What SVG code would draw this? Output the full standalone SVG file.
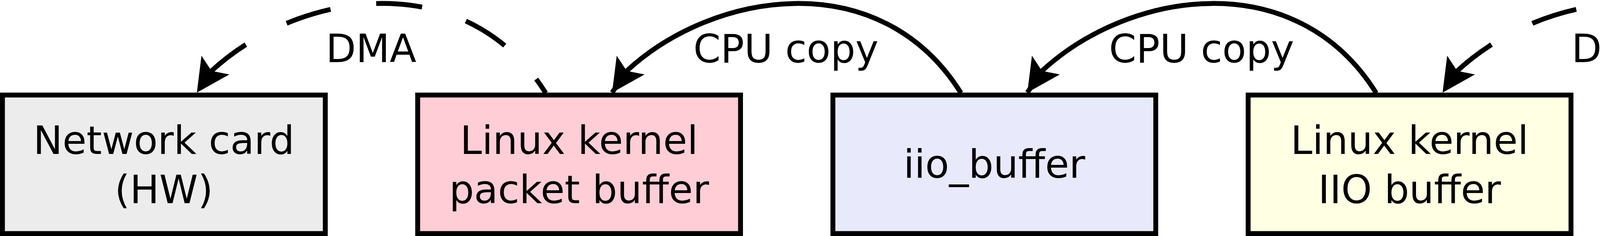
<svg xmlns="http://www.w3.org/2000/svg" width="5092" height="604" viewBox="0 0 5092 604">
<style>
  .box { stroke: #000; stroke-width: 12.5; }
  .lbl { font-family: "DejaVu Sans", "Liberation Sans", sans-serif; font-size: 100px; fill: #000; text-anchor: middle; }
  .conn { fill: none; stroke: #000; stroke-width: 12.5; stroke-linejoin: round; marker-end: url(#arr); }
  .dash { stroke-dasharray: 118 118; stroke-dashoffset: 75; }
</style>
<defs>
  <marker id="arr" markerUnits="userSpaceOnUse" orient="auto" overflow="visible" markerWidth="1" markerHeight="1" refX="0" refY="0">
    <path d="M0,0 L-85,-43 L-67,0 L-85,43 Z" fill="#000" stroke="none"/>
  </marker>
</defs>
<rect width="5092" height="604" fill="#fff"/>
<g id="network-card">
  <rect class="box" x="6.25" y="243.25" width="826.5" height="354.5" fill="#ececec"/>
  <text class="lbl" x="419.5" y="394">Network card</text>
  <text class="lbl" x="419.5" y="520">(HW)</text>
</g>
<g id="packet-buffer">
  <rect class="box" x="1069.25" y="243.25" width="826.5" height="354.5" fill="#ffcdd6"/>
  <text class="lbl" x="1482.5" y="394">Linux kernel</text>
  <text class="lbl" x="1482.5" y="520">packet buffer</text>
</g>
<g id="iio-buffer">
  <rect class="box" x="2132.25" y="243.25" width="826.5" height="354.5" fill="#e8e9fb"/>
  <text class="lbl" x="2545.5" y="455">iio_buffer</text>
</g>
<g id="iio-kernel-buffer">
  <rect class="box" x="3195.25" y="243.25" width="826.5" height="354.5" fill="#ffffe3"/>
  <text class="lbl" x="3608.5" y="394">Linux kernel</text>
  <text class="lbl" x="3608.5" y="520">IIO buffer</text>
</g>
<g id="capture-device">
  <rect class="box" x="4258.25" y="243.25" width="826.5" height="354.5" fill="#ececec"/>
  <text class="lbl" x="4671.5" y="394">Capture device</text>
  <text class="lbl" x="4671.5" y="520">(HW)</text>
</g>
<g id="connectors">
  <path class="conn dash" d="M1397,238 C1190.8,-91.9 763.6,-24.4 541,182 L504,237"/>
  <path class="conn" d="M2460,238 C2253.8,-91.9 1826.6,-24.4 1604,182 L1567,237"/>
  <path class="conn" d="M3523,238 C3316.8,-91.9 2889.6,-24.4 2667,182 L2630,237"/>
  <path class="conn dash" d="M4586,238 C4379.8,-91.9 3952.6,-24.4 3730,182 L3693,237"/>
  <text class="lbl" x="950" y="159">DMA</text>
  <text class="lbl" x="2012" y="160">CPU copy</text>
  <text class="lbl" x="3076" y="160">CPU copy</text>
  <text class="lbl" x="4139" y="159">DMA</text>
</g>
</svg>
